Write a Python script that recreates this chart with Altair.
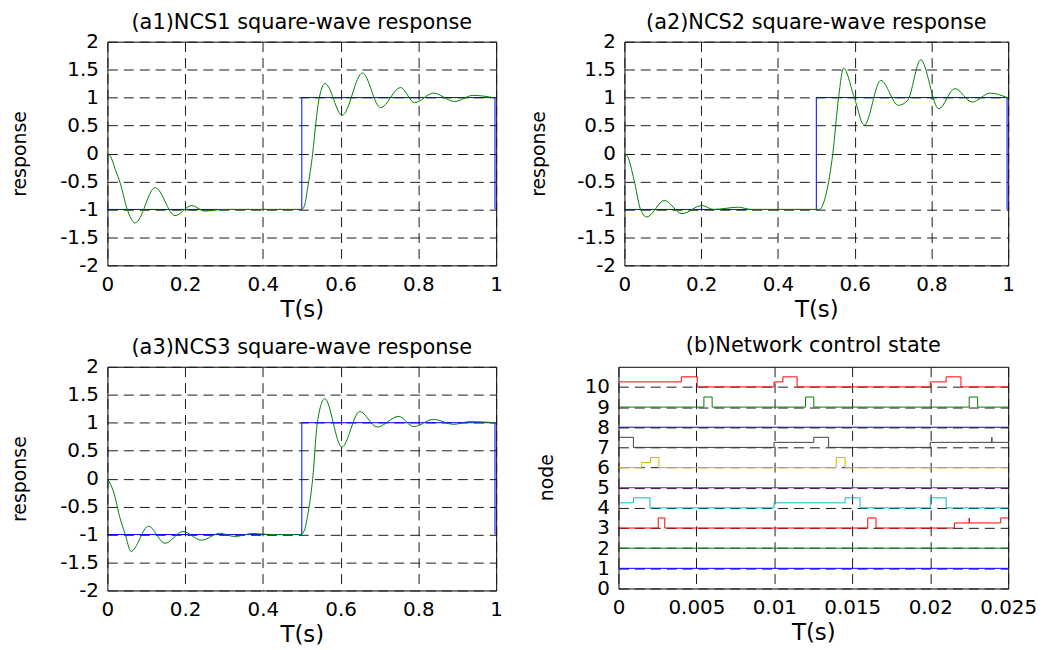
import altair as alt
import pandas as pd

FONT = "DejaVu Sans"

# ---------------- data: square-wave responses ----------------
sq_t = [0, 0.5, 0.5, 0.997, 0.997]
sq_y = [-1, -1, 1, 1, -1]

a1_t = [0, 0.008, 0.0205, 0.033, 0.0506, 0.0716, 0.1228, 0.174, 0.2166, 0.25, 0.28, 0.3, 0.49,
        0.5, 0.507, 0.515, 0.528, 0.537, 0.545, 0.56, 0.604, 0.656, 0.7025, 0.754, 0.79,
        0.839, 0.893, 0.941, 0.992]
a1_y = [0, -0.05, -0.29, -0.53, -0.99, -1.24, -0.61, -1.11, -0.93, -1.03, -1.01, -1.0, -1.0,
        -1.0, -0.93, -0.62, 0.0, 0.6, 1.0, 1.25, 0.684, 1.44, 0.82, 1.18, 0.91,
        1.08, 0.93, 1.04, 1.0]

a2_t = [0, 0.008, 0.025, 0.042, 0.058, 0.104, 0.150, 0.202, 0.232, 0.297, 0.33, 0.5,
        0.509, 0.518, 0.526, 0.543, 0.558, 0.571, 0.599, 0.625, 0.668, 0.714, 0.738,
        0.772, 0.819, 0.861, 0.906, 0.953, 0.997]
a2_y = [0, -0.05, -0.47, -1.0, -1.135, -0.84, -1.075, -0.93, -1.0, -0.96, -1.0, -1.0,
        -1.0, -0.9, -0.71, 0.0, 1.0, 1.525, 1.0, 0.507, 1.307, 0.862, 0.95,
        1.675, 0.80, 1.16, 0.92, 1.08, 1.0]

a3_t = [0, 0.016, 0.033, 0.046, 0.0606, 0.1057, 0.148, 0.194, 0.242, 0.289, 0.327, 0.374,
        0.42, 0.498, 0.507, 0.515, 0.528, 0.54, 0.559, 0.603, 0.649, 0.694, 0.749, 0.788,
        0.839, 0.89, 0.933, 0.997]
a3_y = [0, -0.24, -0.72, -1.0, -1.30, -0.85, -1.156, -0.946, -1.10, -0.977, -1.036, -0.98,
        -1.0, -1.0, -0.92, -0.66, 0.0, 1.0, 1.43, 0.565, 1.20, 0.923, 1.114, 0.93,
        1.06, 0.97, 1.02, 1.0]

a_xticks = [0, 0.2, 0.4, 0.6, 0.8, 1]
a_yticks = [-2, -1.5, -1, -0.5, 0, 0.5, 1, 1.5, 2]

# ---------------- data: network control state ----------------
n10_t = [0, 0.00403, 0.00505, 0.00998, 0.01055, 0.01146, 0.0200, 0.02102, 0.02197, 0.025]
n10_s = [0.25, 0.5, 0, 0.25, 0.5, 0, 0.25, 0.5, 0, 0]
n9_t = [0, 0.00548, 0.00601, 0.0120, 0.01253, 0.0225, 0.02304, 0.025]
n9_s = [0, 0.5, 0, 0.5, 0, 0.5, 0, 0]
n8_t = [0, 0.025]
n8_s = [0, 0]
n7_t = [0, 0.00096, 0.00998, 0.01253, 0.01348, 0.0200, 0.02395, 0.02395, 0.025]
n7_s = [0.5, 0, 0.25, 0.5, 0, 0.25, 0.5, 0.25, 0.25]
n6_t = [0, 0.00149, 0.00206, 0.00259, 0.01397, 0.01454, 0.025]
n6_s = [0, 0.25, 0.5, 0, 0.5, 0, 0]
n5_t = [0, 0.025]
n5_s = [0, 0]
n4_t = [0, 0.00096, 0.00202, 0.00998, 0.01454, 0.0155, 0.0200, 0.02102, 0.025]
n4_s = [0.25, 0.5, 0, 0.25, 0.5, 0, 0.5, 0, 0]
n3_t = [0, 0.00255, 0.00297, 0.01599, 0.01652, 0.02155, 0.0225, 0.0225, 0.02452, 0.025]
n3_s = [0, 0.5, 0, 0.5, 0, 0.25, 0.5, 0.25, 0.5, 0.5]
n2_t = [0, 0.025]
n2_s = [0, 0]
n1_t = [0, 0.025]
n1_s = [0, 0]

node_ids = [1, 2, 3, 4, 5, 6, 7, 8, 9, 10]
node_colors = ["#0000ff", "#008000", "#ff0000", "#00bfbf", "#bf00bf",
               "#bfbf00", "#404040", "#0000ff", "#008000", "#ff0000"]
b_xticks = [0, 0.005, 0.01, 0.015, 0.02, 0.025]
b_yticks = [0, 1, 2, 3, 4, 5, 6, 7, 8, 9, 10]

node_data = {1: (n1_t, n1_s), 2: (n2_t, n2_s), 3: (n3_t, n3_s), 4: (n4_t, n4_s),
             5: (n5_t, n5_s), 6: (n6_t, n6_s), 7: (n7_t, n7_s), 8: (n8_t, n8_s),
             9: (n9_t, n9_s), 10: (n10_t, n10_s)}

# ---------------- chart building ----------------
LBL = "datum.value + ''"


def title_params(text, offset):
    return alt.TitleParams(text=text, font=FONT, fontSize=21, fontWeight="normal",
                           color="black", offset=offset, anchor="middle", frame="group")


def resp_panel(title, t, y, w, h, ytx):
    df = pd.DataFrame({"t": t, "y": y, "i": list(range(len(t)))})
    sq = pd.DataFrame({"t": sq_t, "y": sq_y, "i": list(range(len(sq_t)))})
    x = alt.X("t:Q", scale=alt.Scale(domain=[0, 1], nice=False, zero=False),
              axis=alt.Axis(values=a_xticks, title="T(s)", labelExpr=LBL))
    yy = alt.Y("y:Q", scale=alt.Scale(domain=[-2, 2], nice=False, zero=False),
               axis=alt.Axis(values=a_yticks, title="response", labelExpr=LBL,
                             titleX=ytx, titleY=h / 2))
    blue = alt.Chart(sq).mark_line(color="#0000ff", strokeWidth=1, clip=True).encode(
        x=x, y=yy, order="i:Q")
    green = alt.Chart(df).mark_line(color="#008000", strokeWidth=1, interpolate="monotone",
                                    clip=True).encode(x=x, y=yy, order="i:Q")
    return alt.layer(blue, green).properties(width=w, height=h,
                                             title=title_params(title, -1))


a1 = resp_panel("(a1)NCS1 square-wave response", a1_t, a1_y, 391, 225, -82)
a2 = resp_panel("(a2)NCS2 square-wave response", a2_t, a2_y, 386, 225, -80)
a3 = resp_panel("(a3)NCS3 square-wave response", a3_t, a3_y, 391, 225, -82)

rows = []
for nid in node_ids:
    ts, ss = node_data[nid]
    for k, (tv, sv) in enumerate(zip(ts, ss)):
        rows.append({"t": tv, "y": nid + sv, "node": str(nid), "i": k})
bdf = pd.DataFrame(rows)

b = alt.Chart(bdf).mark_line(interpolate="step-after", strokeWidth=1, clip=True).encode(
    x=alt.X("t:Q", scale=alt.Scale(domain=[0, 0.025], nice=False, zero=False),
            axis=alt.Axis(values=b_xticks, title="T(s)", labelExpr=LBL)),
    y=alt.Y("y:Q", scale=alt.Scale(domain=[0, 11], nice=False, zero=False),
            axis=alt.Axis(values=b_yticks, title="node", labelExpr=LBL,
                          titleX=-66, titleY=111)),
    color=alt.Color("node:N", scale=alt.Scale(domain=[str(n) for n in node_ids],
                                              range=node_colors), legend=None),
    detail="node:N",
    order="i:Q",
).properties(width=392, height=223, title=title_params("(b)Network control state", 11))

row1 = alt.hconcat(a1, a2, spacing=129, bounds="flush")
row2 = alt.hconcat(a3, b, spacing=123, bounds="flush")

chart = alt.vconcat(row1, row2, spacing=12).properties(
    padding={"left": 2, "top": 1, "right": 5, "bottom": 0}
).configure(
    background="white"
).configure_view(
    stroke="black", strokeWidth=1
).configure_axis(
    labelFont=FONT, labelFontSize=20, labelColor="black", labelPadding=9,
    labelFlush=False, labelOverlap=False,
    titleFont=FONT, titleFontSize=19, titleFontWeight="normal", titleColor="black",
    titleBaseline="alphabetic",
    grid=True, gridDash=[10, 6], gridColor="#1a1a1a", gridOpacity=1, gridWidth=1,
    ticks=False, domain=False,
).configure_axisX(
    titleY=51, titleFontSize=23
)

chart.save("out.html", embed_options={"renderer": "svg", "actions": False})
